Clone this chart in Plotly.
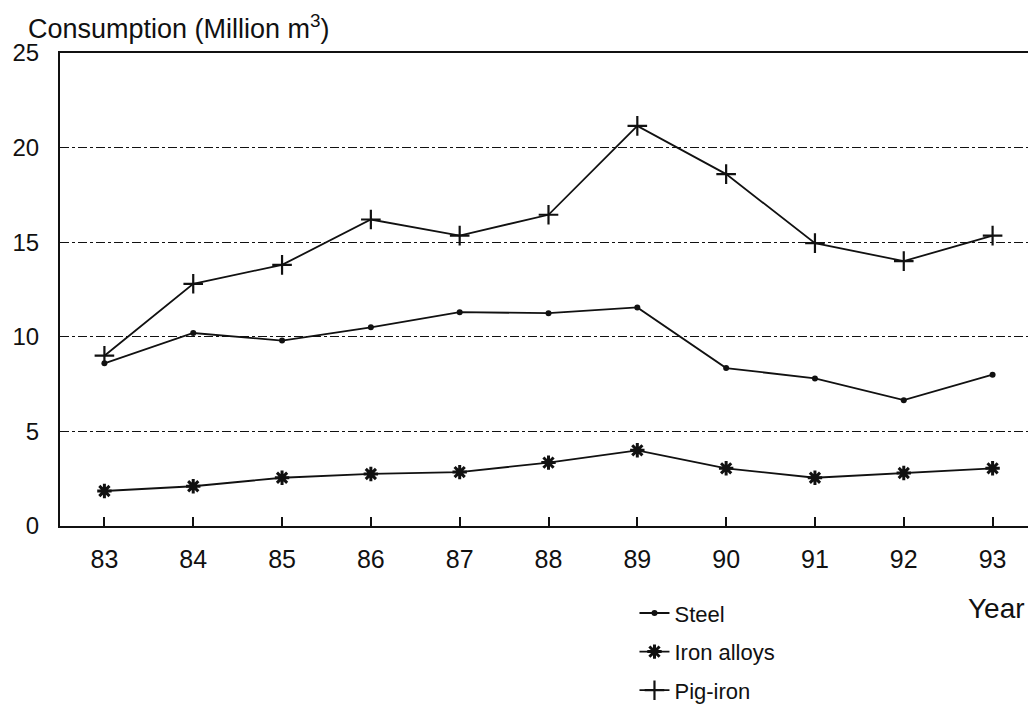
"""Consumption by product, 1983-1993 — monochrome line chart."""

import plotly.graph_objects as go

YEARS = [83, 84, 85, 86, 87, 88, 89, 90, 91, 92, 93]
YEAR_LABELS = ["83", "84", "85", "86", "87", "88", "89", "90", "91", "92", "93"]

STEEL = [8.6, 10.2, 9.8, 10.5, 11.3, 11.25, 11.55, 8.35, 7.8, 6.65, 8.0]
IRON_ALLOYS = [1.85, 2.1, 2.55, 2.75, 2.85, 3.35, 4.0, 3.05, 2.55, 2.8, 3.05]
PIG_IRON = [9.0, 12.8, 13.8, 16.2, 15.35, 16.45, 21.15, 18.6, 14.95, 14.0, 15.35]

Y_TICKS = [0, 5, 10, 15, 20, 25]

FONT = "Liberation Sans, Arial, Helvetica, sans-serif"
INK = "#111111"

fig = go.Figure()

fig.add_trace(
    go.Scatter(
        x=YEARS, y=STEEL, name="Steel", mode="lines+markers",
        legendgroup="steel",
        line=dict(color=INK, width=1.8),
        marker=dict(symbol="circle", size=6, color=INK),
    )
)
fig.add_trace(
    go.Scatter(
        x=YEARS, y=IRON_ALLOYS, name="Iron alloys", mode="lines+markers",
        legendgroup="alloys",
        line=dict(color=INK, width=1.8),
        marker=dict(symbol="asterisk", size=12, color=INK, line=dict(color=INK, width=3)),
    )
)
fig.add_trace(
    go.Scatter(
        x=YEARS, y=PIG_IRON, name="Pig-iron", mode="lines+markers",
        legendgroup="pig",
        line=dict(color=INK, width=1.8),
        marker=dict(symbol="cross-thin", size=14, color=INK, line=dict(color=INK, width=2.2)),
    )
)

fig.update_layout(
    width=1036,
    height=720,
    paper_bgcolor="white",
    plot_bgcolor="white",
    font=dict(family=FONT, color=INK, size=22),
    margin=dict(l=52, r=7, t=45, b=202),
    showlegend=True,
    legend=dict(
        x=0.588, y=-0.14, xanchor="left", yanchor="top",
        orientation="v", traceorder="grouped", tracegroupgap=7,
        font=dict(size=22), bgcolor="rgba(0,0,0,0)",
    ),
    xaxis=dict(
        range=[82.5, 93.5],
        tickmode="array", tickvals=YEARS, ticktext=YEAR_LABELS,
        ticks="inside", ticklen=9, tickwidth=1.5, tickcolor=INK,
        showline=True, linecolor=INK, linewidth=2, mirror=True,
        showgrid=False, zeroline=False, automargin=False,
        ticklabelstandoff=10,
        tickfont=dict(size=25),
    ),
    yaxis=dict(
        range=[0, 25],
        tickmode="array", tickvals=Y_TICKS,
        ticks="inside", ticklen=4, tickcolor=INK,
        showline=True, linecolor=INK, linewidth=2, mirror=True,
        showgrid=True, gridcolor=INK, gridwidth=1, griddash="dashdot",
        zeroline=False, automargin=False,
        ticklabelstandoff=14,
        tickfont=dict(size=24),
    ),
    annotations=[
        dict(
            text="Consumption (Million m<sup>3</sup>)",
            xref="paper", yref="paper", x=-0.035, y=1.095,
            xanchor="left", yanchor="top", showarrow=False,
            font=dict(size=27),
        ),
        dict(
            text="Year",
            xref="paper", yref="paper", x=0.99, y=-0.175,
            xanchor="right", yanchor="middle", showarrow=False,
            font=dict(size=28),
        ),
    ],
)

fig.write_html("out.html")
